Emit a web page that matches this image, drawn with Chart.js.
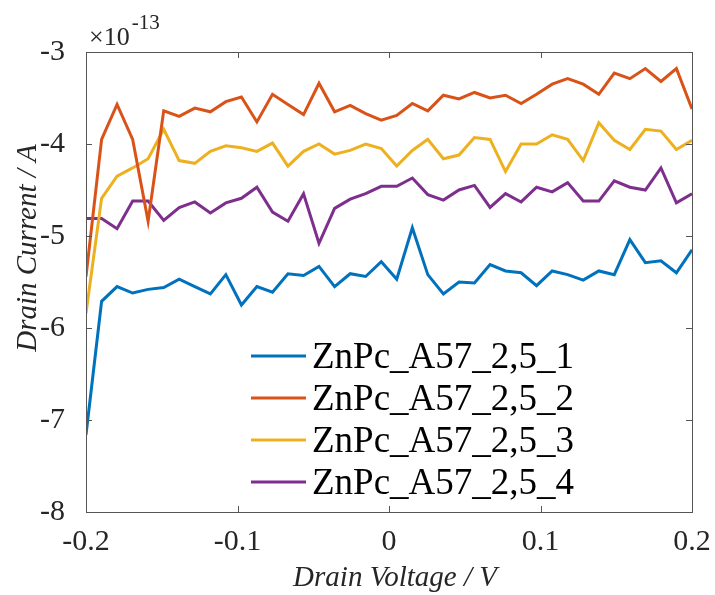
<!DOCTYPE html>
<html>
<head>
<meta charset="utf-8">
<title>Drain current vs drain voltage</title>
<script src="https://cdn.jsdelivr.net/npm/chart.js@4.4.1/dist/chart.umd.min.js"></script>
<style>
  html, body { margin: 0; padding: 0; background: #ffffff; }
  #wrap { width: 715px; height: 595px; position: relative; }
</style>
</head>
<body>
<div id="wrap"><canvas id="chart" width="715" height="595"></canvas></div>
<script>
// Drain voltage sweep (V)
const drainVoltage = [
  -0.2000, -0.1897, -0.1795, -0.1692, -0.1590, -0.1487, -0.1385, -0.1282, -0.1179, -0.1077,
  -0.0974, -0.0872, -0.0769, -0.0667, -0.0564, -0.0462, -0.0359, -0.0256, -0.0154, -0.0051,
   0.0051,  0.0154,  0.0256,  0.0359,  0.0462,  0.0564,  0.0667,  0.0769,  0.0872,  0.0974,
   0.1077,  0.1179,  0.1282,  0.1385,  0.1487,  0.1590,  0.1692,  0.1795,  0.1897,  0.2000
];

// Drain current, in units of 1e-13 A
const current1 = [
  -7.16, -5.71, -5.55, -5.62, -5.58, -5.56, -5.47, -5.55, -5.63, -5.42,
  -5.75, -5.55, -5.61, -5.41, -5.43, -5.33, -5.55, -5.41, -5.44, -5.28,
  -5.47, -4.91, -5.42, -5.63, -5.50, -5.51, -5.31, -5.38, -5.40, -5.54,
  -5.38, -5.42, -5.48, -5.38, -5.42, -5.04, -5.29, -5.27, -5.40, -5.15
];
const current2 = [
  -5.44, -3.95, -3.57, -3.95, -4.84, -3.64, -3.70, -3.61, -3.65, -3.54,
  -3.49, -3.76, -3.46, -3.57, -3.68, -3.34, -3.65, -3.58, -3.67, -3.74,
  -3.69, -3.56, -3.64, -3.47, -3.51, -3.44, -3.50, -3.47, -3.56, -3.46,
  -3.35, -3.29, -3.35, -3.46, -3.23, -3.29, -3.18, -3.32, -3.18, -3.62
];
const current3 = [
  -5.84, -4.59, -4.35, -4.26, -4.16, -3.84, -4.18, -4.21, -4.08, -4.02,
  -4.04, -4.08, -3.99, -4.24, -4.08, -4.00, -4.11, -4.07, -4.00, -4.05,
  -4.24, -4.07, -3.95, -4.16, -4.12, -3.93, -3.95, -4.30, -4.00, -4.00,
  -3.90, -3.95, -4.18, -3.77, -3.96, -4.06, -3.84, -3.86, -4.06, -3.96
];
const current4 = [
  -4.81, -4.81, -4.92, -4.62, -4.62, -4.83, -4.69, -4.63, -4.75, -4.64,
  -4.59, -4.47, -4.74, -4.84, -4.54, -5.08, -4.70, -4.60, -4.54, -4.46,
  -4.46, -4.37, -4.55, -4.61, -4.50, -4.45, -4.69, -4.54, -4.63, -4.47,
  -4.52, -4.42, -4.62, -4.62, -4.40, -4.47, -4.50, -4.26, -4.64, -4.54
];

const seriesNames = ['ZnPc_A57_2,5_1', 'ZnPc_A57_2,5_2', 'ZnPc_A57_2,5_3', 'ZnPc_A57_2,5_4'];
const seriesColors = ['#0072BD', '#D95319', '#EDB120', '#7E2F8E'];

const xTickValues = [-0.2, -0.1, 0, 0.1, 0.2];
const xTickLabels = ['-0.2', '-0.1', '0', '0.1', '0.2'];
const yTickValues = [-8, -7, -6, -5, -4, -3];
const yTickLabels = ['-8', '-7', '-6', '-5', '-4', '-3'];

const SERIF = "'Liberation Serif'";
const AXIS_COLOR = '#262626';
const BOX_COLOR = '#555555';

const allSeries = [current1, current2, current3, current4];
const datasets = allSeries.map((vals, k) => ({
  label: seriesNames[k],
  data: vals.map((v, i) => ({ x: drainVoltage[i], y: v })),
  borderColor: seriesColors[k],
  backgroundColor: seriesColors[k],
  borderWidth: 3,
  pointRadius: 0,
  tension: 0,
  fill: false
}));

// Axes box, inward tick marks, axis titles, exponent and legend
const framePlugin = {
  id: 'frame',
  afterDatasetsDraw(chart) {
    const ctx = chart.ctx;
    const a = chart.chartArea;
    const xs = chart.scales.x, ys = chart.scales.y;
    const tl = 6;
    ctx.save();
    ctx.strokeStyle = BOX_COLOR;
    ctx.lineWidth = 1;
    ctx.strokeRect(Math.round(a.left) + 0.5, Math.round(a.top) + 0.5,
                   Math.round(a.right - a.left), Math.round(a.bottom - a.top));
    ctx.beginPath();
    xTickValues.forEach(v => {
      const px = Math.round(xs.getPixelForValue(v)) + 0.5;
      ctx.moveTo(px, a.bottom); ctx.lineTo(px, a.bottom - tl);
      ctx.moveTo(px, a.top); ctx.lineTo(px, a.top + tl);
    });
    yTickValues.forEach(v => {
      const py = Math.round(ys.getPixelForValue(v)) + 0.5;
      ctx.moveTo(a.left, py); ctx.lineTo(a.left + tl, py);
      ctx.moveTo(a.right, py); ctx.lineTo(a.right - tl, py);
    });
    ctx.stroke();

    // axis titles
    ctx.fillStyle = AXIS_COLOR;
    ctx.font = 'italic 29px ' + SERIF;
    ctx.textAlign = 'center';
    ctx.textBaseline = 'middle';
    ctx.fillText('Drain Voltage / V', (a.left + a.right) / 2 + 6, 578);
    ctx.save();
    ctx.translate(28, 248);
    ctx.rotate(-Math.PI / 2);
    ctx.fillText('Drain Current / A', 0, 0);
    ctx.restore();

    // exponent label
    ctx.textAlign = 'left';
    ctx.textBaseline = 'alphabetic';
    ctx.font = '26px ' + SERIF;
    ctx.fillText('\u00D710', a.left + 3, 45);
    const w = ctx.measureText('\u00D710').width;
    ctx.font = '21px ' + SERIF;
    ctx.fillText('-13', a.left + 3 + w + 2, 29);

    // legend
    const rowY = [356, 398, 440, 482];
    ctx.font = '37px ' + SERIF;
    ctx.textBaseline = 'middle';
    chart.data.datasets.forEach((ds, k) => {
      ctx.strokeStyle = ds.borderColor;
      ctx.lineWidth = 3;
      ctx.beginPath();
      ctx.moveTo(251, rowY[k]);
      ctx.lineTo(306, rowY[k]);
      ctx.stroke();
      ctx.fillStyle = '#000000';
      ctx.fillText(ds.label, 312, rowY[k] + 2);
    });
    ctx.restore();
  }
};

new Chart(document.getElementById('chart'), {
  type: 'line',
  data: { datasets },
  plugins: [framePlugin],
  options: {
    responsive: false,
    animation: false,
    layout: { padding: { left: 0, top: 52, right: 23, bottom: 0 } },
    plugins: {
      legend: { display: false },
      tooltip: { enabled: false },
      title: { display: false }
    },
    scales: {
      x: {
        type: 'linear',
        min: -0.2,
        max: 0.2,
        afterBuildTicks(scale) { scale.ticks = xTickValues.map(v => ({ value: v })); },
        afterFit(scale) { scale.height = 83; scale.paddingLeft = 0; scale.paddingRight = 0; },
        grid: { display: false },
        border: { display: false },
        ticks: {
          padding: 4,
          color: AXIS_COLOR,
          font: { family: SERIF, size: 30 },
          maxRotation: 0,
          autoSkip: false,
          callback: (v, i) => xTickLabels[i]
        }
      },
      y: {
        type: 'linear',
        min: -8,
        max: -3,
        afterBuildTicks(scale) { scale.ticks = yTickValues.map(v => ({ value: v })); },
        afterFit(scale) { scale.width = 86; scale.paddingTop = 0; scale.paddingBottom = 0; },
        grid: { display: false },
        border: { display: false },
        ticks: {
          padding: 13,
          color: AXIS_COLOR,
          font: { family: SERIF, size: 30 },
          autoSkip: false,
          callback: (v, i) => yTickLabels[i]
        }
      }
    }
  }
});
</script>
</body>
</html>
